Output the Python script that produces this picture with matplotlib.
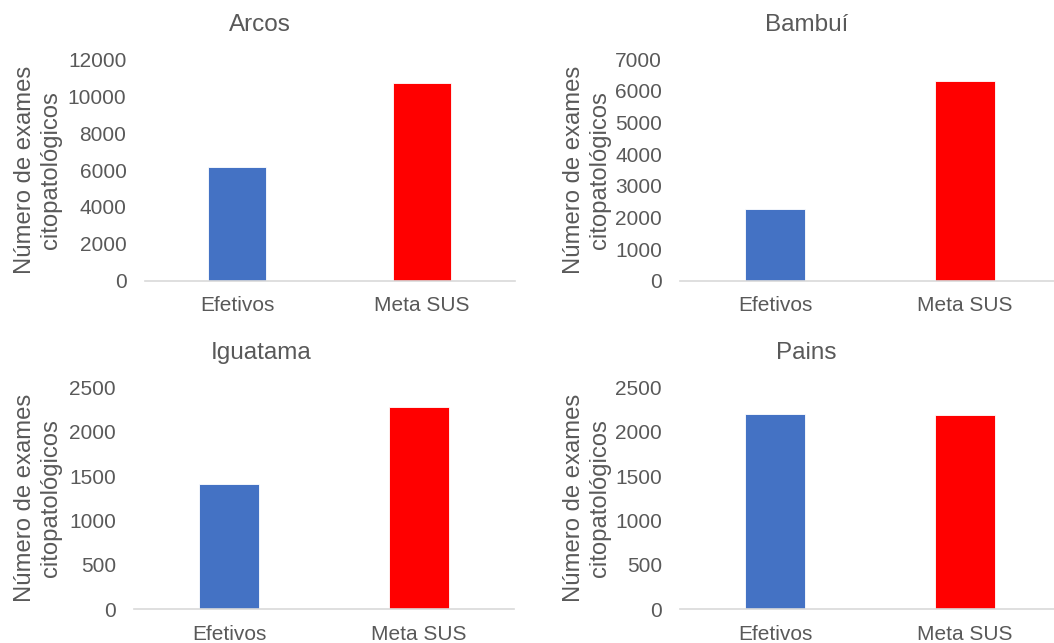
import matplotlib
matplotlib.use("Agg")
import matplotlib.pyplot as plt
import numpy as np

plt.rcParams['font.family'] = ['Liberation Sans', 'DejaVu Sans']

categories = ["Efetivos", "Meta SUS"]
cities = ["Arcos", "Bambuí", "Iguatama", "Pains"]
arcos = [6160, 10710]
bambui = [2280, 6325]
iguatama = [1408, 2275]
pains = [2200, 2185]
values = [arcos, bambui, iguatama, pains]
yticks = [list(range(0, 12001, 2000)), list(range(0, 7001, 1000)),
          list(range(0, 2501, 500)), list(range(0, 2501, 500))]
colors = ["#4472C4", "#FF0000"]
ylabel = "Número de exames\ncitopatológicos"

W, H = 1054, 643
fig = plt.figure(figsize=(W / 100, H / 100), dpi=100)

# axes boxes in pixels: left, right, top(y of max tick), bottom(y of zero)
boxes = [(144.5, 514.5, 59.3, 280.7), (680, 1060, 59.3, 280.7),
         (134, 514, 387.3, 609.3), (680, 1060, 387.3, 609.3)]
title_pos = [(260, 25), (807, 25), (261, 353), (806, 353)]
ylabel_x = [38, 587, 38, 587]

gray = "#595959"
for i, (city, vals, yt, box) in enumerate(zip(cities, values, yticks, boxes)):
    l, r, t, b = box
    ax = fig.add_axes([l / W, (H - b) / H, (r - l) / W, (b - t) / H])
    ax.bar(np.arange(len(categories)), vals, width=0.315, color=colors,
           edgecolor="white", linewidth=0.6)
    ax.set_xlim(-0.5, 1.5)
    ax.set_ylim(0, yt[-1])
    ax.set_yticks(yt)
    ax.set_yticklabels([str(v) for v in yt])
    ax.set_xticks(np.arange(len(categories)))
    ax.set_xticklabels(categories)
    for s in ["top", "right", "left"]:
        ax.spines[s].set_visible(False)
    ax.spines["bottom"].set_color("#d9d9d9")
    ax.spines["bottom"].set_linewidth(1.2)
    ax.tick_params(axis="both", length=0, labelsize=15, colors=gray)
    ax.tick_params(axis="y", pad=13)
    ax.tick_params(axis="x", pad=11)
    fig.text(title_pos[i][0] / W, 1 - title_pos[i][1] / H, city,
             ha="center", va="center", fontsize=17.5, color=gray)
    fig.text(ylabel_x[i] / W, 1 - ((t + b) / 2) / H, ylabel, rotation=90,
             ha="center", va="center", fontsize=17.2, color=gray,
             multialignment="center", linespacing=1.2)

fig.savefig("out.png", dpi=100)
